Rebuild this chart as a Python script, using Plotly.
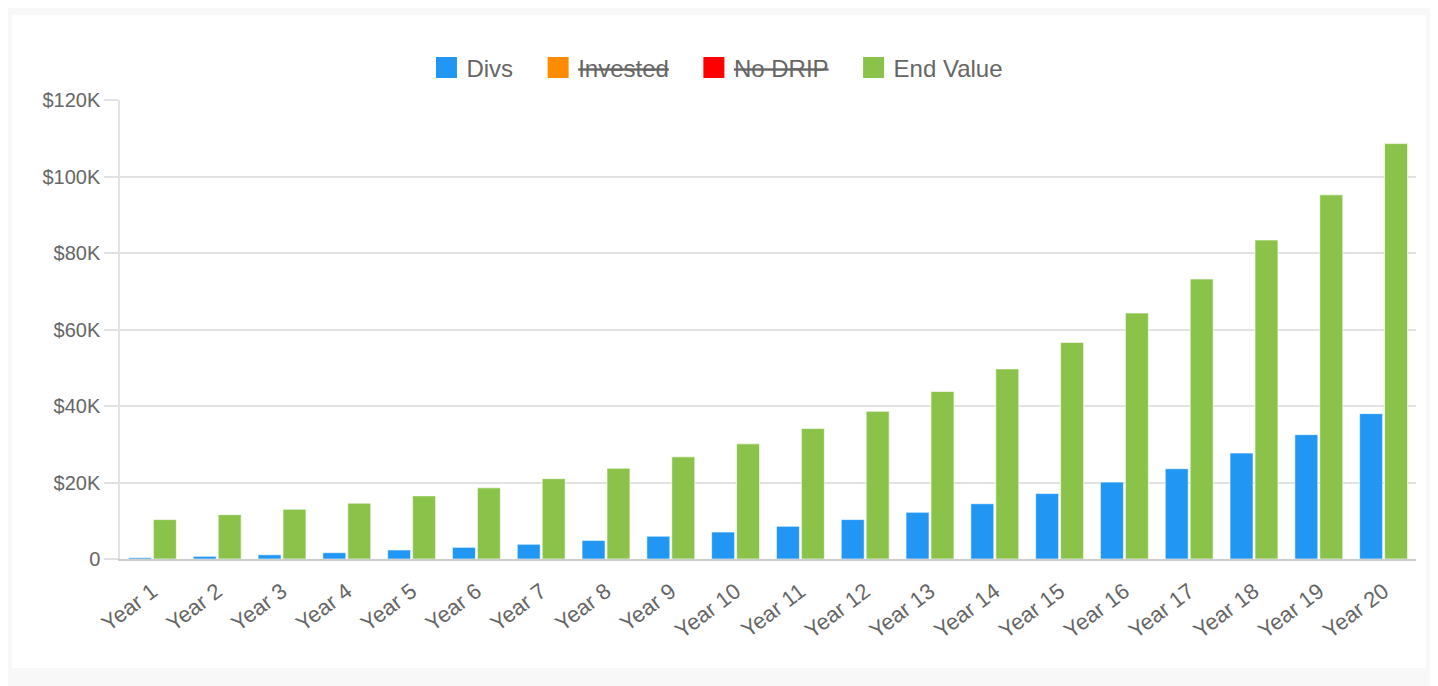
import plotly.graph_objects as go

categories = [f"Year {i}" for i in range(1, 21)]
divs = [350, 700, 1100, 1650, 2350, 3050, 3850, 4850, 5950, 7050,
        8550, 10300, 12200, 14450, 17100, 20100, 23600, 27700, 32500, 38000]
end_value = [10300, 11600, 13000, 14600, 16500, 18600, 21000, 23700, 26700, 30100,
             34100, 38600, 43800, 49700, 56600, 64300, 73200, 83400, 95200, 108600]
y_tickvals = [0, 20000, 40000, 60000, 80000, 100000, 120000]
y_ticktext = ["0", "$20K", "$40K", "$60K", "$80K", "$100K", "$120K"]

series_names = ["Divs", "Invested", "No DRIP", "End Value"]
series_colors = ["#2196F3", "#FF8C00", "#FF0000", "#8BC34A"]
series_hidden = [False, True, True, False]

FONT = "Liberation Sans, Arial, Helvetica, sans-serif"
GRAY = "#666666"
PAD = "\u00a0" * 3

fig = go.Figure()

# visible bars
fig.add_trace(go.Bar(x=categories, y=divs, name="Divs", legendgroup="Divs",
                     showlegend=False, marker=dict(color=series_colors[0],
                     line=dict(color="rgba(255,255,255,0.6)", width=1))))
fig.add_trace(go.Bar(x=categories, y=end_value, name="End Value", legendgroup="End Value",
                     showlegend=False, marker=dict(color=series_colors[3],
                     line=dict(color="rgba(255,255,255,0.6)", width=1))))

# legend entries (square swatches)
for i, (name, color, hidden) in enumerate(zip(series_names, series_colors, series_hidden)):
    label = f"<s>{name}</s>" if hidden else name
    if i < len(series_names) - 1:
        label += PAD
    fig.add_trace(go.Scatter(x=[None], y=[None], mode="markers", name=label,
                             legendgroup=name, hoverinfo="skip",
                             marker=dict(symbol="square", size=16, color=color,
                                         line=dict(color=color, width=5))))

fig.update_layout(
    width=1430, height=678,
    margin=dict(l=112, r=22, t=92, b=127),
    paper_bgcolor="#f8f8f8",
    plot_bgcolor="rgba(0,0,0,0)",
    barmode="group",
    bargap=0.23,
    bargroupgap=0.08,
    font=dict(family=FONT, size=20, color=GRAY),
    showlegend=True,
    legend=dict(orientation="h", x=0.461, xanchor="center", y=1.07, yanchor="middle",
                font=dict(family=FONT, size=24, color=GRAY),
                itemsizing="trace", traceorder="normal", itemwidth=30,
                bgcolor="rgba(0,0,0,0)"),
    xaxis=dict(type="category", tickangle=-37, showgrid=False,
               showline=True, linecolor="#cccccc", linewidth=2,
               ticks="", ticklabelstandoff=9,
               tickfont=dict(family=FONT, size=22, color=GRAY)),
    yaxis=dict(range=[0, 120000], tickvals=y_tickvals, ticktext=y_ticktext,
               showgrid=True, gridcolor="#e2e2e2", gridwidth=1.5,
               zeroline=False, showline=True, linecolor="#e2e2e2", linewidth=1.5,
               ticks="outside", ticklen=14, tickcolor="#e2e2e2", tickwidth=1.5,
               tickfont=dict(family=FONT, size=20, color=GRAY)),
    shapes=[dict(type="rect", xref="paper", yref="paper",
                 x0=-0.0833, x1=1.0077, y0=-0.2375, y1=1.185,
                 fillcolor="white", line=dict(width=0), layer="below")],
)

fig.write_html("out.html")
